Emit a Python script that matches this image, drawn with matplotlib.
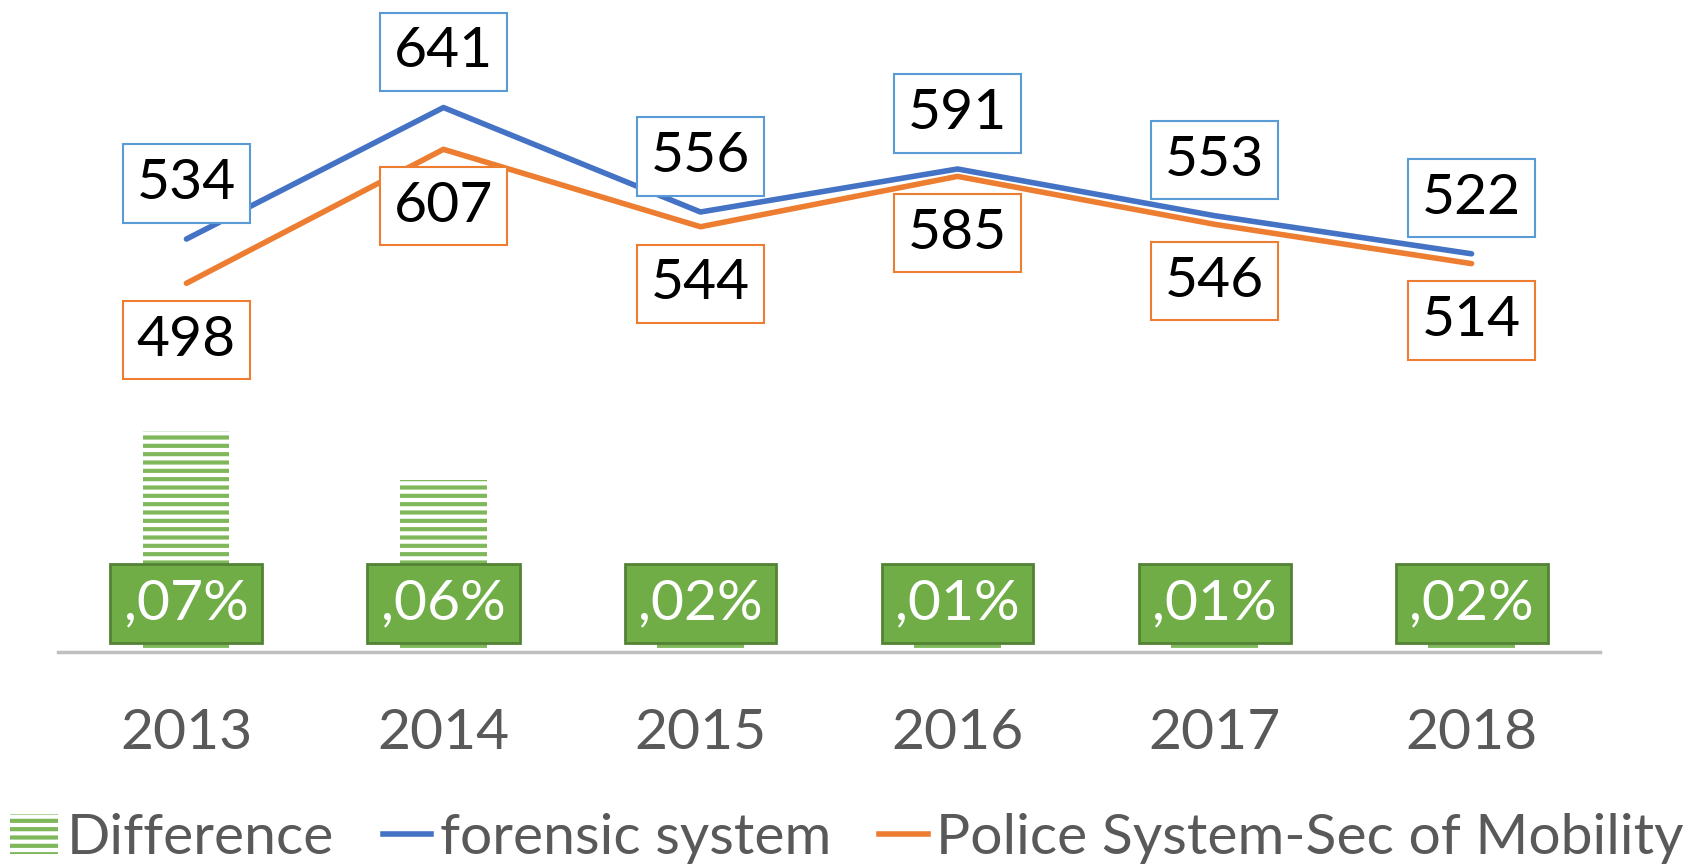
import matplotlib
matplotlib.use("Agg")
from matplotlib import pyplot as plt
from matplotlib.patches import Patch
from matplotlib.lines import Line2D

years = ['2013', '2014', '2015', '2016', '2017', '2018']
forensic = [534, 641, 556, 591, 553, 522]
police = [498, 607, 544, 585, 546, 514]
difference = [0.072, 0.056, 0.022, 0.010, 0.013, 0.016]
diff_labels = [',07%', ',06%', ',02%', ',01%', ',01%', ',02%']

BLUE = '#4472C4'
BLUE_EDGE = '#5B9BD5'
ORANGE = '#ED7D31'
GREEN = '#70AD47'
GREEN_DARK = '#548235'
GREY = '#595959'

plt.rcParams['font.family'] = ['Lato', 'DejaVu Sans']
plt.rcParams['hatch.linewidth'] = 3

fig = plt.figure(figsize=(17.04, 8.67), dpi=100)
ax = fig.add_axes([0.034, 0.248, 0.905, 0.752])
x = list(range(len(years)))

ax.bar(x, difference, width=0.335, color='white', edgecolor='#7fb85a',
       linewidth=0, hatch='--', zorder=2)
ax.set_ylim(0, 0.2124)
ax.set_xlim(-0.5, 5.5)
for s in ['top', 'left', 'right']:
    ax.spines[s].set_visible(False)
ax.spines['bottom'].set_color('#BFBFBF')
ax.spines['bottom'].set_linewidth(2.5)
ax.set_yticks([])
ax.set_xticks(x, years)
ax.tick_params(axis='x', length=0, pad=40, labelsize=41, labelcolor=GREY)

# green percentage labels sitting on the baseline
for i, lab in enumerate(diff_labels):
    ax.annotate(lab, (i, 0), xytext=(0, 35), textcoords='offset points',
                ha='center', va='center', fontsize=41, color='white', zorder=5,
                bbox=dict(boxstyle='square,pad=0.24', fc=GREEN, ec=GREEN_DARK, lw=2))

ax2 = ax.twinx()
ax2.set_ylim(198, 728.5)
ax2.axis('off')
ax2.plot(x, forensic, color=BLUE, lw=4, solid_capstyle='round', zorder=3)
ax2.plot(x, police, color=ORANGE, lw=4, solid_capstyle='round', zorder=3)

for i, v in enumerate(forensic):
    ax2.annotate(str(v), (i, v), xytext=(0, 40), textcoords='offset points',
                 ha='center', va='center', fontsize=41, color='black', zorder=6,
                 bbox=dict(boxstyle='square,pad=0.24', fc='white', ec=BLUE_EDGE, lw=1.5))
for i, v in enumerate(police):
    ax2.annotate(str(v), (i, v), xytext=(0, -41), textcoords='offset points',
                 ha='center', va='center', fontsize=41, color='black', zorder=6,
                 bbox=dict(boxstyle='square,pad=0.24', fc='white', ec=ORANGE, lw=1.5))

handles = [Patch(facecolor='white', edgecolor='#7fb85a', linewidth=0, hatch='--'),
           Line2D([0], [0], color=BLUE, lw=4),
           Line2D([0], [0], color=ORANGE, lw=4)]
fig.legend(handles, ['Difference', 'forensic system', 'Police System-Sec of Mobility'],
           loc='lower center', bbox_to_anchor=(0.497, 0.004), ncol=3, frameon=False,
           fontsize=41, labelcolor=GREY, handlelength=0.85, handletextpad=0.15,
           columnspacing=0.85, borderpad=0, borderaxespad=0)

fig.savefig('out.png', dpi=100)
